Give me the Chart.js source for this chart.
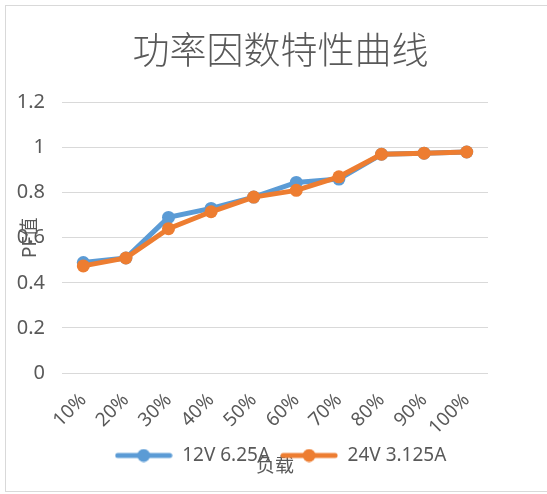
<!DOCTYPE html>
<html>
<head>
<meta charset="utf-8">
<script src="https://cdn.jsdelivr.net/npm/chart.js@4.4.0/dist/chart.umd.min.js"></script>
<style>
  html, body { margin: 0; padding: 0; background: #fff; }
  #frame { position: absolute; left: 5px; top: 5px; width: 560px; height: 485px; border: 1px solid #d9d9d9; }
  #c { position: absolute; left: 0; top: 0; }
</style>
</head>
<body>
<div id="frame"></div>
<canvas id="c" width="547" height="494"></canvas>
<script>
const loads = ["10%", "20%", "30%", "40%", "50%", "60%", "70%", "80%", "90%", "100%"];
const pf12v = [0.49, 0.51, 0.69, 0.73, 0.78, 0.845, 0.86, 0.97, 0.975, 0.98];
const pf24v = [0.475, 0.51, 0.64, 0.715, 0.78, 0.81, 0.87, 0.97, 0.975, 0.98];
const yTicks = [0, 0.2, 0.4, 0.6, 0.8, 1, 1.2];

const blue = "#5b9bd5";
const orange = "#ed7d31";
const grey = "#595959";
const fontFamily = "'Noto Sans', 'Noto Sans CJK SC', sans-serif";
const titleFamily = "'Noto Sans CJK SC', sans-serif";

// legend marker: short thick line with a dot in the middle
const legendMarker = (color) => {
  const cv = document.createElement("canvas");
  cv.width = 58;
  cv.height = 14;
  const g = cv.getContext("2d");
  g.strokeStyle = color;
  g.lineWidth = 5;
  g.lineCap = "round";
  g.beginPath();
  g.moveTo(3, 7);
  g.lineTo(55, 7);
  g.stroke();
  g.fillStyle = color;
  g.beginPath();
  g.arc(29, 7, 6.5, 0, Math.PI * 2);
  g.fill();
  return cv;
};

const markers = [legendMarker(blue), legendMarker(orange)];

const config = {
  type: "line",
  data: {
    labels: loads,
    datasets: [
      {
        label: "12V 6.25A",
        data: pf12v,
        borderColor: blue,
        backgroundColor: blue,
        order: 1,
      },
      {
        label: "24V 3.125A",
        data: pf24v,
        borderColor: orange,
        backgroundColor: orange,
        order: 0,
      },
    ],
  },
  options: {
    responsive: false,
    animation: false,
    layout: { padding: { left: 14, right: 0, top: 0, bottom: 19 } },
    elements: {
      line: { borderWidth: 5, tension: 0 },
      point: { radius: 6.5, borderWidth: 0, hoverRadius: 6.5 },
    },
    scales: {
      x: {
        offset: true,
        grid: { display: false, drawTicks: false },
        border: { display: false },
        ticks: {
          color: grey,
          font: { family: fontFamily, size: 19 },
          minRotation: 45,
          maxRotation: 45,
          padding: 16,
        },
        title: {
          display: true,
          text: "负载",
          color: grey,
          font: { family: fontFamily, size: 19 },
          padding: { top: 0, bottom: -42 },
        },
        afterFit: (scale) => {
          scale.height = 63;
        },
      },
      y: {
        min: 0,
        max: 1.2,
        afterBuildTicks: (scale) => {
          scale.ticks = yTicks.map((v) => ({ value: v }));
        },
        grid: { color: "#d9d9d9", lineWidth: 1, drawTicks: false },
        border: { display: false },
        ticks: {
          color: grey,
          font: { family: fontFamily, size: 20 },
          padding: 17,
          callback: (v) => String(+v.toFixed(1)),
        },
        title: {
          display: true,
          text: "PF值",
          color: grey,
          font: { family: fontFamily, size: 19 },
          padding: { top: 5, bottom: 0 },
        },
        afterFit: (scale) => {
          scale.width = 48;
        },
      },
      // empty right-hand axis that only reserves the blank margin
      yRight: {
        type: "linear",
        position: "right",
        grid: { display: false, drawTicks: false },
        border: { display: false },
        ticks: { display: false },
        afterFit: (scale) => {
          scale.width = 59;
        },
      },
    },
    plugins: {
      title: {
        display: true,
        text: "功率因数特性曲线",
        color: grey,
        font: { family: titleFamily, size: 37, weight: 300 },
        padding: { top: 28, bottom: 30 },
      },
      legend: {
        position: "bottom",
        labels: {
          color: grey,
          font: { family: fontFamily, size: 19 },
          usePointStyle: true,
          pointStyleWidth: 58,
          padding: 10,
          generateLabels: (chart) => {
            const items = Chart.defaults.plugins.legend.labels.generateLabels(chart);
            items.forEach((it) => { it.pointStyle = markers[it.datasetIndex]; });
            return items;
          },
          sort: (a, b) => a.datasetIndex - b.datasetIndex,
        },
      },
      tooltip: { enabled: false },
    },
  },
};

new Chart(document.getElementById("c"), config);
</script>
</body>
</html>
